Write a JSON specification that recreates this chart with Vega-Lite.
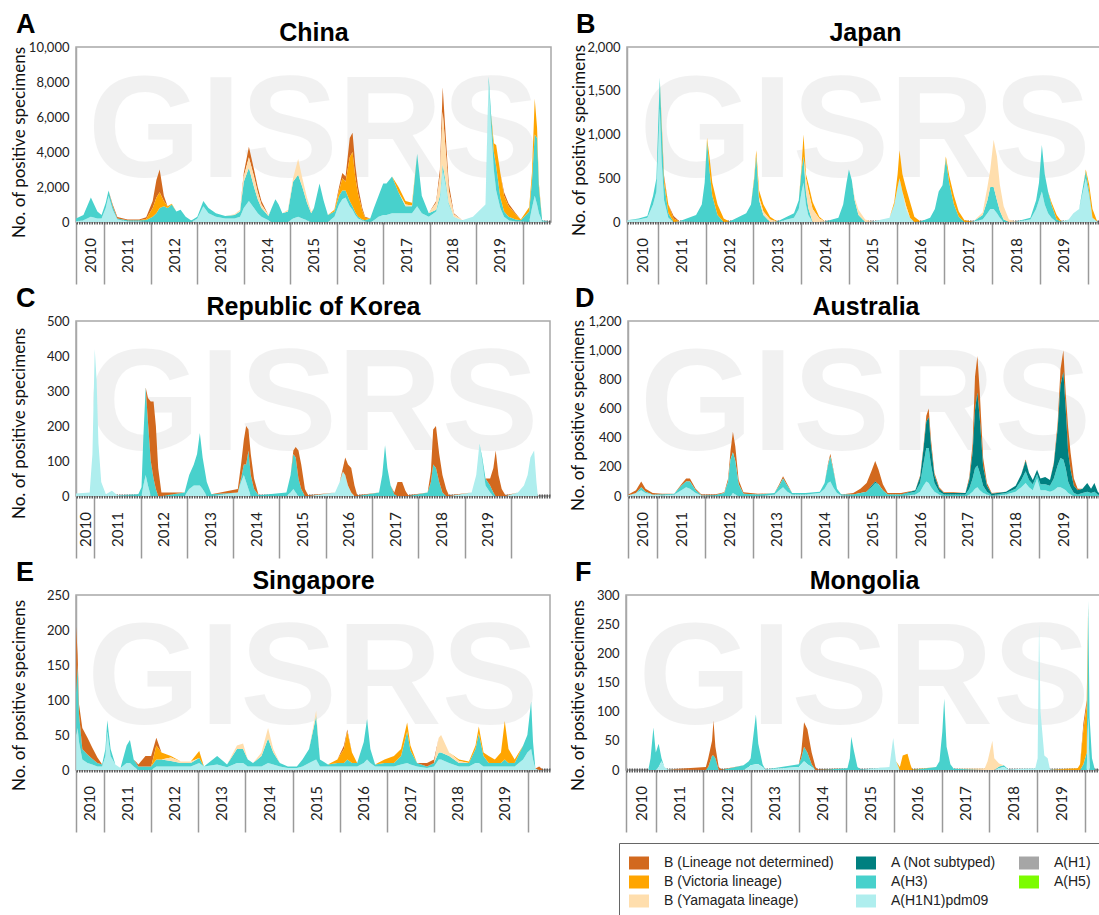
{
"$schema": "https://vega.github.io/schema/vega-lite/v6.json",
"background": "white",
"padding": {"left": 9, "top": 10, "right": 0, "bottom": 0},
"config": {
  "font": "Lato",
  "view": {"stroke": "#a8a8a8", "strokeWidth": 1.5},
  "axisBottom": {"labelAngle": -90, "labelAlign": "center", "labelBaseline": "middle", "labelFont": "Lato", "labelFontSize": 15, "labelColor": "#222", "labelPadding": -29, "labelFlush": false, "labelOverlap": false, "tickSize": 62, "tickWidth": 1.5, "tickColor": "#9a9a9a", "domainColor": "#5a5a5a", "domainWidth": 4, "domainDash": [1.5, 1], "grid": false},
  "axisLeft": {"labelFont": "Lato", "labelFontSize": 13, "labelColor": "#222", "labelPadding": 7, "ticks": false, "domainColor": "#a8a8a8", "domainWidth": 1.5, "grid": true, "gridColor": "#888", "gridWidth": 1.5, "titleFont": "Lato", "titleFontSize": 17, "titleFontWeight": "normal", "titleColor": "#111", "titleBaseline": "alphabetic"},
  "axisTop": {"labels": false, "ticks": false, "domain": false, "grid": false, "titleFont": "Liberation Sans", "titleFontSize": 25, "titleFontWeight": "bold", "titleColor": "#000", "titlePadding": 7, "titleBaseline": "alphabetic"},
  "title": {"anchor": "start", "frame": "bounds", "font": "Liberation Sans", "fontSize": 27, "fontWeight": "bold", "color": "#000", "baseline": "alphabetic", "offset": -19, "dx": 6},
  "legend": {"orient": "none", "legendX": 543, "legendY": 796, "columns": 3, "symbolType": "M-1,-0.65H1V0.65H-1Z", "symbolSize": 400, "symbolStrokeWidth": 0, "symbolOpacity": 1, "labelFont": "Liberation Sans", "labelFontSize": 14, "labelColor": "#222", "labelOffset": 15, "labelLimit": 300, "rowPadding": 2, "columnPadding": 22, "padding": 10, "strokeColor": "#666", "fillColor": "white"}
},
"datasets": {
"ser": [{"s":"L","n":"B (Lineage not determined)","r":8},{"s":"V","n":"B (Victoria lineage)","r":7},{"s":"Y","n":"B (Yamagata lineage)","r":6},{"s":"N","n":"A (Not subtyped)","r":3},{"s":"H","n":"A(H3)","r":2},{"s":"P","n":"A(H1N1)pdm09","r":1}],
"CN": [
{"t":10.39,"s":"P","v":50},{"t":10.39,"s":"H","v":150},
{"t":10.55,"s":"P","v":100},{"t":10.55,"s":"H","v":300},
{"t":10.71,"s":"P","v":300},{"t":10.71,"s":"H","v":1100},
{"t":10.85,"s":"P","v":200},{"t":10.85,"s":"H","v":400},
{"t":10.94,"s":"P","v":200},{"t":10.94,"s":"H","v":200},
{"t":11.03,"s":"P","v":800},{"t":11.03,"s":"H","v":300},
{"t":11.09,"s":"P","v":1500},{"t":11.09,"s":"H","v":300},
{"t":11.18,"s":"P","v":700},{"t":11.18,"s":"H","v":200},{"t":11.18,"s":"L","v":100},
{"t":11.28,"s":"P","v":150},{"t":11.28,"s":"H","v":50},{"t":11.28,"s":"L","v":80},
{"t":11.5,"s":"P","v":50},{"t":11.5,"s":"H","v":50},{"t":11.5,"s":"L","v":50},
{"t":11.75,"s":"P","v":50},{"t":11.75,"s":"H","v":50},{"t":11.75,"s":"L","v":50},
{"t":11.9,"s":"P","v":20},{"t":11.9,"s":"H","v":100},{"t":11.9,"s":"V","v":50},{"t":11.9,"s":"L","v":100},
{"t":12.04,"s":"H","v":300},{"t":12.04,"s":"V","v":500},{"t":12.04,"s":"L","v":400},
{"t":12.12,"s":"H","v":500},{"t":12.12,"s":"V","v":900},{"t":12.12,"s":"L","v":1000},
{"t":12.19,"s":"H","v":800},{"t":12.19,"s":"V","v":900},{"t":12.19,"s":"L","v":1300},
{"t":12.28,"s":"H","v":900},{"t":12.28,"s":"V","v":300},{"t":12.28,"s":"L","v":300},
{"t":12.36,"s":"H","v":800},{"t":12.36,"s":"V","v":100},
{"t":12.45,"s":"H","v":1000},{"t":12.45,"s":"V","v":50},
{"t":12.55,"s":"H","v":600},{"t":12.64,"s":"H","v":700},{"t":12.75,"s":"H","v":300},{"t":12.87,"s":"H","v":80},
{"t":13.0,"s":"P","v":200},{"t":13.0,"s":"H","v":100},
{"t":13.13,"s":"P","v":900},{"t":13.13,"s":"H","v":300},
{"t":13.24,"s":"P","v":500},{"t":13.24,"s":"H","v":300},
{"t":13.4,"s":"P","v":300},{"t":13.4,"s":"H","v":200},
{"t":13.6,"s":"P","v":200},{"t":13.6,"s":"H","v":150},
{"t":13.8,"s":"P","v":200},{"t":13.8,"s":"H","v":200},{"t":13.8,"s":"Y","v":50},
{"t":13.92,"s":"P","v":300},{"t":13.92,"s":"H","v":300},{"t":13.92,"s":"Y","v":100},
{"t":14.0,"s":"P","v":800},{"t":14.0,"s":"H","v":1500},{"t":14.0,"s":"Y","v":300},{"t":14.0,"s":"L","v":200},
{"t":14.11,"s":"P","v":1200},{"t":14.11,"s":"H","v":1900},{"t":14.11,"s":"Y","v":600},{"t":14.11,"s":"L","v":600},
{"t":14.22,"s":"P","v":800},{"t":14.22,"s":"H","v":1200},{"t":14.22,"s":"Y","v":600},{"t":14.22,"s":"L","v":400},
{"t":14.3,"s":"P","v":500},{"t":14.3,"s":"H","v":800},{"t":14.3,"s":"Y","v":400},{"t":14.3,"s":"L","v":300},
{"t":14.38,"s":"P","v":300},{"t":14.38,"s":"H","v":500},{"t":14.38,"s":"Y","v":200},{"t":14.38,"s":"L","v":200},
{"t":14.53,"s":"P","v":100},{"t":14.53,"s":"H","v":250},{"t":14.53,"s":"Y","v":50},
{"t":14.6,"s":"H","v":800},{"t":14.68,"s":"H","v":1300},{"t":14.75,"s":"H","v":1000},{"t":14.83,"s":"H","v":500},
{"t":14.95,"s":"H","v":600},{"t":14.95,"s":"Y","v":100},
{"t":15.06,"s":"P","v":200},{"t":15.06,"s":"H","v":2100},{"t":15.06,"s":"Y","v":200},
{"t":15.17,"s":"P","v":300},{"t":15.17,"s":"H","v":2400},{"t":15.17,"s":"Y","v":900},
{"t":15.26,"s":"P","v":200},{"t":15.26,"s":"H","v":1800},{"t":15.26,"s":"Y","v":500},
{"t":15.36,"s":"P","v":100},{"t":15.36,"s":"H","v":1000},{"t":15.36,"s":"Y","v":300},
{"t":15.45,"s":"H","v":500},{"t":15.45,"s":"Y","v":100},
{"t":15.51,"s":"H","v":800},{"t":15.63,"s":"H","v":2200},{"t":15.72,"s":"H","v":1200},{"t":15.81,"s":"H","v":400},
{"t":15.95,"s":"P","v":300},{"t":15.95,"s":"H","v":300},{"t":15.95,"s":"V","v":100},
{"t":16.05,"s":"P","v":1000},{"t":16.05,"s":"H","v":500},{"t":16.05,"s":"V","v":300},{"t":16.05,"s":"L","v":200},
{"t":16.12,"s":"P","v":1300},{"t":16.12,"s":"H","v":500},{"t":16.12,"s":"V","v":700},{"t":16.12,"s":"L","v":300},
{"t":16.19,"s":"P","v":1400},{"t":16.19,"s":"H","v":400},{"t":16.19,"s":"V","v":500},{"t":16.19,"s":"L","v":300},
{"t":16.28,"s":"P","v":900},{"t":16.28,"s":"H","v":300},{"t":16.28,"s":"V","v":2500},{"t":16.28,"s":"L","v":1100},
{"t":16.34,"s":"P","v":700},{"t":16.34,"s":"H","v":200},{"t":16.34,"s":"V","v":3100},{"t":16.34,"s":"L","v":1100},
{"t":16.4,"s":"P","v":400},{"t":16.4,"s":"H","v":150},{"t":16.4,"s":"V","v":2000},{"t":16.4,"s":"L","v":700},
{"t":16.46,"s":"P","v":200},{"t":16.46,"s":"H","v":100},{"t":16.46,"s":"V","v":1300},{"t":16.46,"s":"L","v":400},
{"t":16.55,"s":"P","v":100},{"t":16.55,"s":"H","v":50},{"t":16.55,"s":"V","v":500},{"t":16.55,"s":"L","v":150},
{"t":16.61,"s":"P","v":50},{"t":16.61,"s":"H","v":50},{"t":16.61,"s":"V","v":150},{"t":16.61,"s":"L","v":50},
{"t":16.72,"s":"H","v":200},
{"t":16.8,"s":"P","v":100},{"t":16.8,"s":"H","v":700},
{"t":16.9,"s":"P","v":300},{"t":16.9,"s":"H","v":1200},
{"t":17.0,"s":"P","v":400},{"t":17.0,"s":"H","v":1800},
{"t":17.07,"s":"P","v":400},{"t":17.07,"s":"H","v":1800},
{"t":17.19,"s":"P","v":500},{"t":17.19,"s":"H","v":2100},
{"t":17.33,"s":"P","v":500},{"t":17.33,"s":"H","v":1200},{"t":17.33,"s":"V","v":300},
{"t":17.48,"s":"P","v":500},{"t":17.48,"s":"H","v":400},{"t":17.48,"s":"V","v":200},{"t":17.48,"s":"Y","v":100},
{"t":17.62,"s":"P","v":500},{"t":17.62,"s":"H","v":400},{"t":17.62,"s":"V","v":150},{"t":17.62,"s":"Y","v":50},
{"t":17.73,"s":"P","v":900},{"t":17.73,"s":"H","v":3000},
{"t":17.83,"s":"P","v":500},{"t":17.83,"s":"H","v":1000},
{"t":17.98,"s":"P","v":300},{"t":17.98,"s":"H","v":200},
{"t":18.14,"s":"P","v":600},{"t":18.14,"s":"H","v":100},{"t":18.14,"s":"Y","v":400},{"t":18.14,"s":"L","v":100},
{"t":18.22,"s":"P","v":1300},{"t":18.22,"s":"H","v":200},{"t":18.22,"s":"Y","v":1100},{"t":18.22,"s":"L","v":400},
{"t":18.28,"s":"P","v":3000},{"t":18.28,"s":"H","v":300},{"t":18.28,"s":"Y","v":3000},{"t":18.28,"s":"L","v":1400},
{"t":18.35,"s":"P","v":2000},{"t":18.35,"s":"H","v":200},{"t":18.35,"s":"Y","v":1700},{"t":18.35,"s":"L","v":800},
{"t":18.41,"s":"P","v":1000},{"t":18.41,"s":"H","v":100},{"t":18.41,"s":"Y","v":700},{"t":18.41,"s":"L","v":400},
{"t":18.52,"s":"P","v":300},{"t":18.52,"s":"Y","v":150},{"t":18.52,"s":"L","v":50},
{"t":18.7,"s":"P","v":100},{"t":18.93,"s":"P","v":300},{"t":19.2,"s":"P","v":1000},
{"t":19.27,"s":"P","v":8000},{"t":19.27,"s":"H","v":300},
{"t":19.32,"s":"P","v":5500},{"t":19.32,"s":"H","v":700},
{"t":19.38,"s":"P","v":3000},{"t":19.38,"s":"H","v":1000},{"t":19.38,"s":"V","v":500},
{"t":19.43,"s":"P","v":1800},{"t":19.43,"s":"H","v":1400},{"t":19.43,"s":"V","v":1200},
{"t":19.52,"s":"P","v":800},{"t":19.52,"s":"H","v":600},{"t":19.52,"s":"V","v":1400},
{"t":19.6,"s":"P","v":300},{"t":19.6,"s":"H","v":300},{"t":19.6,"s":"V","v":900},{"t":19.6,"s":"L","v":200},
{"t":19.7,"s":"P","v":100},{"t":19.7,"s":"H","v":200},{"t":19.7,"s":"V","v":600},{"t":19.7,"s":"L","v":150},
{"t":19.85,"s":"P","v":50},{"t":19.85,"s":"H","v":100},{"t":19.85,"s":"V","v":300},{"t":19.85,"s":"L","v":50},
{"t":19.96,"s":"P","v":50},{"t":19.96,"s":"H","v":50},{"t":19.96,"s":"V","v":50},
{"t":20.14,"s":"H","v":600},{"t":20.14,"s":"V","v":250},
{"t":20.2,"s":"P","v":800},{"t":20.2,"s":"H","v":1500},{"t":20.2,"s":"V","v":500},
{"t":20.26,"s":"P","v":1500},{"t":20.26,"s":"H","v":3500},{"t":20.26,"s":"V","v":2050},
{"t":20.31,"s":"P","v":1000},{"t":20.31,"s":"H","v":3800},{"t":20.31,"s":"V","v":600},
{"t":20.35,"s":"P","v":500},{"t":20.35,"s":"H","v":1500},{"t":20.35,"s":"V","v":200},
{"t":20.42,"s":"P","v":50},{"t":20.42,"s":"H","v":50},
{"t":20.55,"s":"P","v":10}
],
"JP": [
{"t":10.36,"s":"P","v":20},
{"t":10.6,"s":"P","v":30},{"t":10.6,"s":"H","v":10},
{"t":10.78,"s":"P","v":50},{"t":10.78,"s":"H","v":20},
{"t":10.9,"s":"P","v":200},{"t":10.9,"s":"H","v":100},
{"t":10.97,"s":"P","v":350},{"t":10.97,"s":"H","v":150},
{"t":11.04,"s":"P","v":1300},{"t":11.04,"s":"H","v":350},
{"t":11.08,"s":"P","v":700},{"t":11.08,"s":"H","v":400},{"t":11.08,"s":"V","v":50},
{"t":11.13,"s":"P","v":250},{"t":11.13,"s":"H","v":200},{"t":11.13,"s":"V","v":50},{"t":11.13,"s":"L","v":30},
{"t":11.22,"s":"P","v":50},{"t":11.22,"s":"H","v":50},{"t":11.22,"s":"V","v":100},
{"t":11.33,"s":"V","v":40},{"t":11.33,"s":"L","v":30},
{"t":11.45,"s":"P","v":10},
{"t":11.8,"s":"H","v":80},{"t":11.92,"s":"H","v":200},{"t":11.98,"s":"H","v":450},
{"t":12.03,"s":"H","v":930},{"t":12.03,"s":"V","v":30},
{"t":12.08,"s":"H","v":600},{"t":12.08,"s":"V","v":150},
{"t":12.14,"s":"H","v":300},{"t":12.14,"s":"V","v":150},
{"t":12.25,"s":"H","v":80},{"t":12.25,"s":"V","v":120},
{"t":12.38,"s":"V","v":40},{"t":12.5,"s":"H","v":5},
{"t":12.85,"s":"H","v":100},{"t":12.95,"s":"H","v":200},
{"t":13.02,"s":"H","v":500},{"t":13.02,"s":"V","v":30},
{"t":13.06,"s":"H","v":760},{"t":13.06,"s":"V","v":60},
{"t":13.12,"s":"H","v":250},{"t":13.12,"s":"V","v":80},{"t":13.12,"s":"Y","v":30},
{"t":13.21,"s":"H","v":80},{"t":13.21,"s":"V","v":80},{"t":13.21,"s":"Y","v":40},
{"t":13.35,"s":"V","v":30},{"t":13.35,"s":"Y","v":30},
{"t":13.5,"s":"H","v":5},
{"t":13.85,"s":"P","v":50},{"t":13.85,"s":"H","v":50},
{"t":13.95,"s":"P","v":150},{"t":13.95,"s":"H","v":100},
{"t":14.01,"s":"P","v":350},{"t":14.01,"s":"H","v":250},{"t":14.01,"s":"V","v":50},
{"t":14.05,"s":"P","v":450},{"t":14.05,"s":"H","v":300},{"t":14.05,"s":"V","v":250},
{"t":14.1,"s":"P","v":200},{"t":14.1,"s":"H","v":150},{"t":14.1,"s":"Y","v":150},{"t":14.1,"s":"V","v":50},
{"t":14.15,"s":"P","v":80},{"t":14.15,"s":"H","v":80},{"t":14.15,"s":"Y","v":200},{"t":14.15,"s":"V","v":80},
{"t":14.24,"s":"Y","v":150},{"t":14.24,"s":"V","v":80},
{"t":14.38,"s":"Y","v":40},{"t":14.38,"s":"V","v":20},
{"t":14.5,"s":"P","v":5},
{"t":14.78,"s":"H","v":50},{"t":14.88,"s":"H","v":200},{"t":14.95,"s":"H","v":450},{"t":15.0,"s":"H","v":600},{"t":15.06,"s":"H","v":480},
{"t":15.12,"s":"H","v":250},{"t":15.12,"s":"Y","v":30},
{"t":15.2,"s":"H","v":80},{"t":15.2,"s":"Y","v":60},
{"t":15.34,"s":"Y","v":30},{"t":15.5,"s":"P","v":5},
{"t":15.85,"s":"P","v":50},
{"t":15.95,"s":"P","v":200},{"t":15.95,"s":"V","v":30},
{"t":16.02,"s":"P","v":400},{"t":16.02,"s":"V","v":150},
{"t":16.06,"s":"P","v":500},{"t":16.06,"s":"V","v":320},
{"t":16.12,"s":"P","v":350},{"t":16.12,"s":"V","v":200},
{"t":16.2,"s":"P","v":150},{"t":16.2,"s":"V","v":200},{"t":16.2,"s":"Y","v":30},
{"t":16.28,"s":"P","v":50},{"t":16.28,"s":"V","v":180},
{"t":16.37,"s":"V","v":60},{"t":16.5,"s":"H","v":5},
{"t":16.7,"s":"H","v":50},{"t":16.8,"s":"H","v":150},{"t":16.88,"s":"H","v":350},{"t":16.96,"s":"H","v":420},
{"t":17.03,"s":"H","v":720},{"t":17.03,"s":"V","v":30},
{"t":17.1,"s":"H","v":450},{"t":17.1,"s":"V","v":80},
{"t":17.2,"s":"H","v":200},{"t":17.2,"s":"V","v":100},
{"t":17.3,"s":"H","v":60},{"t":17.3,"s":"V","v":60},
{"t":17.42,"s":"V","v":20},{"t":17.6,"s":"P","v":5},
{"t":17.8,"s":"P","v":30},{"t":17.8,"s":"H","v":50},{"t":17.8,"s":"Y","v":30},
{"t":17.9,"s":"P","v":100},{"t":17.9,"s":"H","v":150},{"t":17.9,"s":"Y","v":150},
{"t":17.96,"s":"P","v":150},{"t":17.96,"s":"H","v":250},{"t":17.96,"s":"Y","v":200},
{"t":18.03,"s":"P","v":150},{"t":18.03,"s":"H","v":250},{"t":18.03,"s":"Y","v":540},
{"t":18.1,"s":"P","v":100},{"t":18.1,"s":"H","v":150},{"t":18.1,"s":"Y","v":500},
{"t":18.16,"s":"P","v":50},{"t":18.16,"s":"H","v":80},{"t":18.16,"s":"Y","v":300},
{"t":18.24,"s":"H","v":30},{"t":18.24,"s":"Y","v":150},
{"t":18.35,"s":"Y","v":30},{"t":18.5,"s":"P","v":5},
{"t":18.8,"s":"P","v":30},{"t":18.8,"s":"H","v":20},
{"t":18.92,"s":"P","v":150},{"t":18.92,"s":"H","v":100},
{"t":18.98,"s":"P","v":250},{"t":18.98,"s":"H","v":200},
{"t":19.04,"s":"P","v":350},{"t":19.04,"s":"H","v":530},
{"t":19.1,"s":"P","v":200},{"t":19.1,"s":"H","v":350},
{"t":19.17,"s":"P","v":100},{"t":19.17,"s":"H","v":250},
{"t":19.24,"s":"P","v":50},{"t":19.24,"s":"H","v":150},{"t":19.24,"s":"V","v":30},
{"t":19.35,"s":"H","v":30},{"t":19.35,"s":"V","v":50},
{"t":19.45,"s":"P","v":5},
{"t":19.6,"s":"P","v":30},{"t":19.7,"s":"P","v":100},{"t":19.82,"s":"P","v":150},
{"t":19.9,"s":"P","v":350},{"t":19.9,"s":"H","v":50},
{"t":19.96,"s":"P","v":500},{"t":19.96,"s":"H","v":80},{"t":19.96,"s":"V","v":20},
{"t":20.03,"s":"P","v":300},{"t":20.03,"s":"H","v":50},{"t":20.03,"s":"V","v":80},
{"t":20.1,"s":"P","v":50},{"t":20.1,"s":"V","v":100},
{"t":20.2,"s":"P","v":5}
],
"KR": [
{"t":10.39,"s":"P","v":5},{"t":10.9,"s":"P","v":10},{"t":10.96,"s":"P","v":120},{"t":11.01,"s":"P","v":420},{"t":11.05,"s":"P","v":330},{"t":11.09,"s":"P","v":150},{"t":11.15,"s":"P","v":40},{"t":11.25,"s":"P","v":5},{"t":11.38,"s":"P","v":15},{"t":11.5,"s":"P","v":2},
{"t":11.95,"s":"H","v":5},{"t":12.02,"s":"H","v":25},
{"t":12.06,"s":"P","v":30},{"t":12.06,"s":"H","v":140},
{"t":12.11,"s":"P","v":60},{"t":12.11,"s":"H","v":250},
{"t":12.16,"s":"P","v":30},{"t":12.16,"s":"H","v":180},{"t":12.16,"s":"L","v":70},
{"t":12.22,"s":"H","v":100},{"t":12.22,"s":"L","v":170},
{"t":12.28,"s":"H","v":50},{"t":12.28,"s":"L","v":220},
{"t":12.33,"s":"H","v":20},{"t":12.33,"s":"L","v":180},
{"t":12.38,"s":"L","v":80},{"t":12.45,"s":"L","v":10},
{"t":12.95,"s":"H","v":10},
{"t":13.05,"s":"P","v":20},{"t":13.05,"s":"H","v":40},
{"t":13.15,"s":"P","v":30},{"t":13.15,"s":"H","v":60},
{"t":13.22,"s":"P","v":30},{"t":13.22,"s":"H","v":90},
{"t":13.28,"s":"P","v":30},{"t":13.28,"s":"H","v":150},
{"t":13.34,"s":"P","v":20},{"t":13.34,"s":"H","v":90},
{"t":13.43,"s":"H","v":40},{"t":13.53,"s":"H","v":5},
{"t":14.1,"s":"P","v":10},{"t":14.1,"s":"L","v":10},
{"t":14.17,"s":"P","v":40},{"t":14.17,"s":"H","v":10},{"t":14.17,"s":"L","v":40},
{"t":14.23,"s":"P","v":60},{"t":14.23,"s":"H","v":30},{"t":14.23,"s":"L","v":70},
{"t":14.28,"s":"P","v":40},{"t":14.28,"s":"H","v":50},{"t":14.28,"s":"L","v":110},
{"t":14.33,"s":"P","v":20},{"t":14.33,"s":"H","v":110},{"t":14.33,"s":"L","v":60},
{"t":14.38,"s":"H","v":60},{"t":14.38,"s":"L","v":60},
{"t":14.45,"s":"H","v":20},{"t":14.45,"s":"L","v":30},
{"t":14.55,"s":"H","v":2},
{"t":15.15,"s":"H","v":10},
{"t":15.24,"s":"P","v":10},{"t":15.24,"s":"H","v":50},
{"t":15.3,"s":"P","v":20},{"t":15.3,"s":"H","v":100},{"t":15.3,"s":"L","v":10},
{"t":15.35,"s":"P","v":10},{"t":15.35,"s":"H","v":100},{"t":15.35,"s":"L","v":30},
{"t":15.41,"s":"H","v":50},{"t":15.41,"s":"L","v":80},
{"t":15.47,"s":"H","v":20},{"t":15.47,"s":"L","v":70},
{"t":15.55,"s":"L","v":20},{"t":15.62,"s":"L","v":2},
{"t":16.2,"s":"P","v":10},{"t":16.3,"s":"P","v":40},
{"t":16.37,"s":"P","v":70},{"t":16.37,"s":"L","v":10},
{"t":16.42,"s":"P","v":60},{"t":16.42,"s":"L","v":50},
{"t":16.48,"s":"P","v":30},{"t":16.48,"s":"L","v":60},
{"t":16.55,"s":"P","v":10},{"t":16.55,"s":"L","v":70},
{"t":16.62,"s":"L","v":30},{"t":16.68,"s":"L","v":2},
{"t":17.15,"s":"H","v":10},{"t":17.22,"s":"H","v":60},{"t":17.28,"s":"H","v":145},{"t":17.33,"s":"H","v":80},{"t":17.4,"s":"H","v":30},
{"t":17.48,"s":"H","v":5},{"t":17.48,"s":"L","v":5},
{"t":17.55,"s":"L","v":40},{"t":17.65,"s":"L","v":40},{"t":17.72,"s":"L","v":15},{"t":17.78,"s":"L","v":2},
{"t":18.2,"s":"H","v":10},
{"t":18.27,"s":"H","v":40},{"t":18.27,"s":"L","v":30},
{"t":18.32,"s":"H","v":90},{"t":18.32,"s":"L","v":100},
{"t":18.38,"s":"H","v":80},{"t":18.38,"s":"L","v":120},
{"t":18.45,"s":"H","v":40},{"t":18.45,"s":"L","v":80},
{"t":18.52,"s":"H","v":10},{"t":18.52,"s":"L","v":50},
{"t":18.6,"s":"L","v":20},{"t":18.66,"s":"L","v":2},
{"t":19.15,"s":"P","v":10},{"t":19.25,"s":"P","v":60},{"t":19.32,"s":"P","v":150},
{"t":19.38,"s":"P","v":100},{"t":19.38,"s":"H","v":10},
{"t":19.45,"s":"P","v":30},{"t":19.45,"s":"H","v":20},
{"t":19.55,"s":"P","v":10},{"t":19.55,"s":"H","v":20},{"t":19.55,"s":"L","v":20},
{"t":19.62,"s":"H","v":10},{"t":19.62,"s":"L","v":70},
{"t":19.67,"s":"L","v":130},{"t":19.73,"s":"L","v":60},{"t":19.8,"s":"L","v":20},{"t":19.88,"s":"L","v":2},
{"t":20.15,"s":"P","v":10},{"t":20.28,"s":"P","v":30},{"t":20.36,"s":"P","v":60},{"t":20.42,"s":"P","v":110},{"t":20.5,"s":"P","v":130},{"t":20.55,"s":"P","v":40},{"t":20.58,"s":"P","v":2}
],
"AU": [
{"t":10.39,"s":"P","v":5},{"t":10.39,"s":"L","v":5},
{"t":10.55,"s":"P","v":20},{"t":10.55,"s":"L","v":20},
{"t":10.66,"s":"P","v":40},{"t":10.66,"s":"H","v":20},{"t":10.66,"s":"L","v":40},
{"t":10.75,"s":"P","v":20},{"t":10.75,"s":"H","v":10},{"t":10.75,"s":"L","v":20},
{"t":10.9,"s":"P","v":10},{"t":10.9,"s":"L","v":10},
{"t":11.1,"s":"P","v":5},{"t":11.1,"s":"H","v":5},{"t":11.1,"s":"L","v":5},
{"t":11.35,"s":"P","v":10},{"t":11.35,"s":"H","v":5},
{"t":11.5,"s":"P","v":40},{"t":11.5,"s":"H","v":30},{"t":11.5,"s":"L","v":10},
{"t":11.6,"s":"P","v":60},{"t":11.6,"s":"H","v":40},{"t":11.6,"s":"L","v":20},
{"t":11.68,"s":"P","v":50},{"t":11.68,"s":"H","v":50},{"t":11.68,"s":"L","v":20},
{"t":11.8,"s":"P","v":20},{"t":11.8,"s":"H","v":20},{"t":11.8,"s":"L","v":10},
{"t":11.92,"s":"P","v":5},{"t":11.92,"s":"L","v":5},
{"t":12.2,"s":"H","v":5},{"t":12.2,"s":"L","v":5},
{"t":12.4,"s":"H","v":20},{"t":12.4,"s":"L","v":5},
{"t":12.48,"s":"H","v":100},{"t":12.48,"s":"L","v":20},
{"t":12.53,"s":"H","v":250},{"t":12.53,"s":"L","v":60},
{"t":12.58,"s":"P","v":20},{"t":12.58,"s":"H","v":280},{"t":12.58,"s":"L","v":140},
{"t":12.63,"s":"P","v":10},{"t":12.63,"s":"H","v":230},{"t":12.63,"s":"L","v":100},
{"t":12.7,"s":"H","v":80},{"t":12.7,"s":"L","v":30},
{"t":12.8,"s":"H","v":15},{"t":12.8,"s":"L","v":10},
{"t":13.1,"s":"H","v":10},{"t":13.1,"s":"L","v":5},
{"t":13.45,"s":"P","v":10},{"t":13.45,"s":"H","v":10},
{"t":13.55,"s":"P","v":40},{"t":13.55,"s":"H","v":30},{"t":13.55,"s":"L","v":10},
{"t":13.63,"s":"P","v":60},{"t":13.63,"s":"H","v":60},{"t":13.63,"s":"L","v":15},
{"t":13.72,"s":"P","v":30},{"t":13.72,"s":"H","v":40},{"t":13.72,"s":"L","v":10},
{"t":13.82,"s":"P","v":10},{"t":13.82,"s":"H","v":10},
{"t":14.1,"s":"P","v":10},{"t":14.1,"s":"H","v":10},
{"t":14.4,"s":"P","v":20},{"t":14.4,"s":"H","v":10},
{"t":14.5,"s":"P","v":50},{"t":14.5,"s":"H","v":40},
{"t":14.57,"s":"P","v":90},{"t":14.57,"s":"H","v":120},{"t":14.57,"s":"L","v":10},
{"t":14.62,"s":"P","v":100},{"t":14.62,"s":"H","v":170},{"t":14.62,"s":"L","v":20},
{"t":14.68,"s":"P","v":60},{"t":14.68,"s":"H","v":120},{"t":14.68,"s":"L","v":10},
{"t":14.76,"s":"P","v":20},{"t":14.76,"s":"H","v":30},
{"t":14.85,"s":"P","v":5},{"t":14.85,"s":"H","v":5},
{"t":15.1,"s":"H","v":10},{"t":15.1,"s":"L","v":10},
{"t":15.25,"s":"H","v":20},{"t":15.25,"s":"L","v":30},
{"t":15.38,"s":"H","v":30},{"t":15.38,"s":"L","v":60},
{"t":15.48,"s":"H","v":60},{"t":15.48,"s":"N","v":10},{"t":15.48,"s":"L","v":100},
{"t":15.56,"s":"H","v":90},{"t":15.56,"s":"N","v":10},{"t":15.56,"s":"L","v":140},
{"t":15.63,"s":"H","v":80},{"t":15.63,"s":"L","v":100},
{"t":15.72,"s":"H","v":40},{"t":15.72,"s":"L","v":40},
{"t":15.82,"s":"H","v":10},{"t":15.82,"s":"L","v":10},
{"t":16.1,"s":"H","v":10},{"t":16.1,"s":"L","v":10},
{"t":16.4,"s":"P","v":10},{"t":16.4,"s":"H","v":20},{"t":16.4,"s":"N","v":10},
{"t":16.5,"s":"P","v":30},{"t":16.5,"s":"H","v":60},{"t":16.5,"s":"N","v":40},{"t":16.5,"s":"L","v":10},
{"t":16.57,"s":"P","v":70},{"t":16.57,"s":"H","v":150},{"t":16.57,"s":"N","v":100},{"t":16.57,"s":"L","v":20},
{"t":16.63,"s":"P","v":100},{"t":16.63,"s":"H","v":230},{"t":16.63,"s":"N","v":180},{"t":16.63,"s":"L","v":40},
{"t":16.68,"s":"P","v":90},{"t":16.68,"s":"H","v":240},{"t":16.68,"s":"N","v":210},{"t":16.68,"s":"L","v":60},
{"t":16.73,"s":"P","v":60},{"t":16.73,"s":"H","v":150},{"t":16.73,"s":"N","v":130},{"t":16.73,"s":"L","v":40},
{"t":16.8,"s":"P","v":30},{"t":16.8,"s":"H","v":60},{"t":16.8,"s":"N","v":50},{"t":16.8,"s":"L","v":20},
{"t":16.9,"s":"P","v":10},{"t":16.9,"s":"H","v":20},{"t":16.9,"s":"N","v":20},{"t":16.9,"s":"L","v":10},
{"t":17.0,"s":"H","v":10},{"t":17.0,"s":"N","v":10},{"t":17.0,"s":"L","v":5},
{"t":17.2,"s":"H","v":10},{"t":17.2,"s":"N","v":10},{"t":17.2,"s":"L","v":5},
{"t":17.45,"s":"H","v":10},{"t":17.45,"s":"N","v":10},
{"t":17.53,"s":"P","v":10},{"t":17.53,"s":"H","v":40},{"t":17.53,"s":"N","v":60},{"t":17.53,"s":"L","v":20},
{"t":17.6,"s":"P","v":30},{"t":17.6,"s":"H","v":90},{"t":17.6,"s":"N","v":180},{"t":17.6,"s":"L","v":60},
{"t":17.65,"s":"P","v":50},{"t":17.65,"s":"H","v":140},{"t":17.65,"s":"N","v":400},{"t":17.65,"s":"L","v":230},
{"t":17.7,"s":"P","v":60},{"t":17.7,"s":"H","v":150},{"t":17.7,"s":"N","v":500},{"t":17.7,"s":"L","v":250},
{"t":17.75,"s":"P","v":40},{"t":17.75,"s":"H","v":120},{"t":17.75,"s":"N","v":370},{"t":17.75,"s":"L","v":180},
{"t":17.82,"s":"P","v":20},{"t":17.82,"s":"H","v":50},{"t":17.82,"s":"N","v":130},{"t":17.82,"s":"L","v":60},
{"t":17.9,"s":"P","v":10},{"t":17.9,"s":"H","v":20},{"t":17.9,"s":"N","v":40},{"t":17.9,"s":"L","v":20},
{"t":18.0,"s":"H","v":5},{"t":18.0,"s":"N","v":10},{"t":18.0,"s":"L","v":5},
{"t":18.3,"s":"P","v":10},{"t":18.3,"s":"H","v":10},{"t":18.3,"s":"N","v":10},
{"t":18.5,"s":"P","v":30},{"t":18.5,"s":"H","v":20},{"t":18.5,"s":"N","v":20},
{"t":18.62,"s":"P","v":60},{"t":18.62,"s":"H","v":50},{"t":18.62,"s":"N","v":40},
{"t":18.71,"s":"P","v":90},{"t":18.71,"s":"H","v":80},{"t":18.71,"s":"N","v":70},{"t":18.71,"s":"L","v":10},
{"t":18.78,"s":"P","v":60},{"t":18.78,"s":"H","v":50},{"t":18.78,"s":"N","v":50},
{"t":18.86,"s":"P","v":40},{"t":18.86,"s":"H","v":40},{"t":18.86,"s":"N","v":30},
{"t":18.95,"s":"P","v":120},{"t":18.95,"s":"H","v":30},{"t":18.95,"s":"N","v":30},
{"t":19.02,"s":"P","v":40},{"t":19.02,"s":"H","v":40},{"t":19.02,"s":"N","v":40},
{"t":19.12,"s":"P","v":40},{"t":19.12,"s":"H","v":40},{"t":19.12,"s":"N","v":50},
{"t":19.22,"s":"P","v":30},{"t":19.22,"s":"H","v":40},{"t":19.22,"s":"N","v":40},
{"t":19.3,"s":"P","v":40},{"t":19.3,"s":"H","v":80},{"t":19.3,"s":"N","v":100},{"t":19.3,"s":"L","v":10},
{"t":19.38,"s":"P","v":60},{"t":19.38,"s":"H","v":150},{"t":19.38,"s":"N","v":250},{"t":19.38,"s":"L","v":40},
{"t":19.44,"s":"P","v":60},{"t":19.44,"s":"H","v":200},{"t":19.44,"s":"N","v":500},{"t":19.44,"s":"L","v":110},
{"t":19.5,"s":"P","v":50},{"t":19.5,"s":"H","v":200},{"t":19.5,"s":"N","v":600},{"t":19.5,"s":"L","v":150},
{"t":19.55,"s":"P","v":40},{"t":19.55,"s":"H","v":150},{"t":19.55,"s":"N","v":400},{"t":19.55,"s":"L","v":110},
{"t":19.6,"s":"P","v":20},{"t":19.6,"s":"H","v":80},{"t":19.6,"s":"N","v":200},{"t":19.6,"s":"L","v":170},
{"t":19.65,"s":"P","v":10},{"t":19.65,"s":"H","v":50},{"t":19.65,"s":"N","v":120},{"t":19.65,"s":"L","v":120},
{"t":19.72,"s":"H","v":20},{"t":19.72,"s":"N","v":50},{"t":19.72,"s":"L","v":50},
{"t":19.8,"s":"H","v":10},{"t":19.8,"s":"N","v":30},{"t":19.8,"s":"L","v":10},
{"t":19.9,"s":"H","v":20},{"t":19.9,"s":"N","v":30},
{"t":20.0,"s":"H","v":30},{"t":20.0,"s":"N","v":60},
{"t":20.08,"s":"H","v":20},{"t":20.08,"s":"N","v":30},
{"t":20.15,"s":"H","v":30},{"t":20.15,"s":"N","v":60},
{"t":20.22,"s":"H","v":10},{"t":20.22,"s":"N","v":20},
{"t":20.3,"s":"H","v":2}
],
"SG": [
{"t":10.41,"s":"P","v":50},{"t":10.41,"s":"H","v":60},{"t":10.41,"s":"L","v":95},
{"t":10.44,"s":"P","v":60},{"t":10.44,"s":"H","v":90},{"t":10.44,"s":"L","v":15},
{"t":10.47,"s":"P","v":40},{"t":10.47,"s":"H","v":40},{"t":10.47,"s":"L","v":14},
{"t":10.54,"s":"P","v":15},{"t":10.54,"s":"H","v":15},{"t":10.54,"s":"L","v":30},
{"t":10.65,"s":"P","v":10},{"t":10.65,"s":"H","v":12},{"t":10.65,"s":"L","v":24},
{"t":10.75,"s":"P","v":8},{"t":10.75,"s":"H","v":8},{"t":10.75,"s":"L","v":16},
{"t":10.86,"s":"P","v":5},{"t":10.86,"s":"H","v":5},{"t":10.86,"s":"L","v":8},
{"t":10.96,"s":"P","v":5},{"t":10.96,"s":"H","v":3},
{"t":11.03,"s":"P","v":20},{"t":11.03,"s":"H","v":10},
{"t":11.07,"s":"P","v":55},{"t":11.07,"s":"H","v":16},
{"t":11.14,"s":"P","v":20},{"t":11.14,"s":"H","v":10},
{"t":11.24,"s":"P","v":8},{"t":11.35,"s":"P","v":3},
{"t":11.48,"s":"P","v":10},{"t":11.48,"s":"H","v":25},
{"t":11.55,"s":"P","v":10},{"t":11.55,"s":"H","v":33},
{"t":11.63,"s":"P","v":5},{"t":11.63,"s":"H","v":10},
{"t":11.73,"s":"H","v":5},{"t":11.73,"s":"L","v":3},
{"t":11.88,"s":"H","v":5},{"t":11.88,"s":"L","v":15},
{"t":12.0,"s":"H","v":5},{"t":12.0,"s":"L","v":15},
{"t":12.11,"s":"P","v":5},{"t":12.11,"s":"H","v":10},{"t":12.11,"s":"V","v":20},{"t":12.11,"s":"L","v":11},
{"t":12.22,"s":"P","v":5},{"t":12.22,"s":"H","v":10},{"t":12.22,"s":"V","v":10},
{"t":12.42,"s":"P","v":5},{"t":12.42,"s":"H","v":8},{"t":12.42,"s":"Y","v":5},{"t":12.42,"s":"V","v":2},
{"t":12.63,"s":"P","v":5},{"t":12.63,"s":"H","v":5},{"t":12.63,"s":"Y","v":2},
{"t":12.84,"s":"P","v":5},{"t":12.84,"s":"H","v":5},{"t":12.84,"s":"Y","v":2},
{"t":13.02,"s":"P","v":10},{"t":13.02,"s":"H","v":7},{"t":13.02,"s":"V","v":10},
{"t":13.12,"s":"P","v":5},
{"t":13.4,"s":"P","v":8},{"t":13.4,"s":"H","v":12},
{"t":13.61,"s":"P","v":4},{"t":13.61,"s":"H","v":4},
{"t":13.82,"s":"P","v":10},{"t":13.82,"s":"H","v":20},{"t":13.82,"s":"Y","v":5},
{"t":13.95,"s":"P","v":10},{"t":13.95,"s":"H","v":20},{"t":13.95,"s":"Y","v":8},
{"t":14.05,"s":"P","v":5},{"t":14.05,"s":"H","v":10},
{"t":14.16,"s":"P","v":5},{"t":14.16,"s":"H","v":5},
{"t":14.34,"s":"P","v":5},{"t":14.34,"s":"H","v":15},{"t":14.34,"s":"Y","v":5},
{"t":14.48,"s":"P","v":10},{"t":14.48,"s":"H","v":35},{"t":14.48,"s":"Y","v":15},
{"t":14.59,"s":"P","v":8},{"t":14.59,"s":"H","v":17},{"t":14.59,"s":"Y","v":5},
{"t":14.73,"s":"P","v":5},{"t":14.73,"s":"H","v":5},
{"t":14.9,"s":"P","v":3},{"t":14.9,"s":"H","v":2},
{"t":15.09,"s":"P","v":3},{"t":15.09,"s":"H","v":2},
{"t":15.21,"s":"P","v":5},{"t":15.21,"s":"H","v":10},
{"t":15.35,"s":"P","v":10},{"t":15.35,"s":"H","v":20},
{"t":15.5,"s":"P","v":15},{"t":15.5,"s":"H","v":62},{"t":15.5,"s":"Y","v":8},
{"t":15.58,"s":"P","v":5},{"t":15.58,"s":"H","v":10},
{"t":15.75,"s":"P","v":5},{"t":15.75,"s":"H","v":3},
{"t":15.95,"s":"P","v":5},{"t":15.95,"s":"H","v":5},{"t":15.95,"s":"V","v":5},
{"t":16.09,"s":"P","v":5},{"t":16.09,"s":"H","v":5},{"t":16.09,"s":"V","v":20},{"t":16.09,"s":"L","v":5},
{"t":16.16,"s":"P","v":5},{"t":16.16,"s":"H","v":10},{"t":16.16,"s":"V","v":40},{"t":16.16,"s":"L","v":3},
{"t":16.26,"s":"P","v":5},{"t":16.26,"s":"H","v":5},{"t":16.26,"s":"V","v":15},
{"t":16.37,"s":"P","v":5},{"t":16.37,"s":"H","v":5},
{"t":16.51,"s":"P","v":10},{"t":16.51,"s":"H","v":30},
{"t":16.58,"s":"P","v":15},{"t":16.58,"s":"H","v":58},
{"t":16.65,"s":"P","v":10},{"t":16.65,"s":"H","v":20},
{"t":16.75,"s":"P","v":5},{"t":16.75,"s":"H","v":3},
{"t":16.95,"s":"P","v":5},{"t":16.95,"s":"H","v":5},{"t":16.95,"s":"V","v":5},
{"t":17.15,"s":"P","v":5},{"t":17.15,"s":"H","v":5},{"t":17.15,"s":"V","v":10},
{"t":17.3,"s":"P","v":8},{"t":17.3,"s":"H","v":12},{"t":17.3,"s":"V","v":10},
{"t":17.43,"s":"P","v":10},{"t":17.43,"s":"H","v":45},{"t":17.43,"s":"V","v":13},
{"t":17.5,"s":"P","v":8},{"t":17.5,"s":"H","v":20},{"t":17.5,"s":"V","v":7},
{"t":17.64,"s":"P","v":5},{"t":17.64,"s":"H","v":5},
{"t":17.85,"s":"P","v":3},{"t":17.85,"s":"H","v":2},{"t":17.85,"s":"L","v":5},
{"t":18.0,"s":"P","v":5},{"t":18.0,"s":"H","v":5},{"t":18.0,"s":"L","v":5},
{"t":18.1,"s":"P","v":15},{"t":18.1,"s":"H","v":10},{"t":18.1,"s":"Y","v":21},
{"t":18.15,"s":"P","v":15},{"t":18.15,"s":"H","v":10},{"t":18.15,"s":"Y","v":25},
{"t":18.32,"s":"P","v":10},{"t":18.32,"s":"H","v":10},{"t":18.32,"s":"Y","v":5},
{"t":18.53,"s":"P","v":5},{"t":18.53,"s":"H","v":5},{"t":18.53,"s":"Y","v":3},{"t":18.53,"s":"V","v":2},
{"t":18.74,"s":"P","v":5},{"t":18.74,"s":"H","v":5},{"t":18.74,"s":"V","v":2},
{"t":18.88,"s":"P","v":10},{"t":18.88,"s":"H","v":20},{"t":18.88,"s":"V","v":5},
{"t":18.95,"s":"P","v":10},{"t":18.95,"s":"H","v":42},{"t":18.95,"s":"V","v":10},
{"t":19.05,"s":"P","v":5},{"t":19.05,"s":"H","v":15},{"t":19.05,"s":"V","v":5},
{"t":19.16,"s":"P","v":5},{"t":19.16,"s":"H","v":5},{"t":19.16,"s":"V","v":10},
{"t":19.29,"s":"P","v":5},{"t":19.29,"s":"H","v":5},{"t":19.29,"s":"V","v":5},
{"t":19.42,"s":"P","v":5},{"t":19.42,"s":"H","v":5},{"t":19.42,"s":"V","v":15},
{"t":19.5,"s":"P","v":5},{"t":19.5,"s":"H","v":10},{"t":19.5,"s":"V","v":55},
{"t":19.58,"s":"P","v":5},{"t":19.58,"s":"H","v":5},{"t":19.58,"s":"V","v":20},
{"t":19.71,"s":"P","v":5},{"t":19.71,"s":"H","v":5},{"t":19.71,"s":"V","v":5},
{"t":19.89,"s":"P","v":15},{"t":19.89,"s":"H","v":20},
{"t":19.98,"s":"P","v":25},{"t":19.98,"s":"H","v":25},
{"t":20.06,"s":"P","v":30},{"t":20.06,"s":"H","v":68},
{"t":20.1,"s":"P","v":15},{"t":20.1,"s":"H","v":25},
{"t":20.15,"s":"P","v":2},{"t":20.23,"s":"L","v":5},{"t":20.3,"s":"L","v":1}
],
"MN": [
{"t":10.85,"s":"H","v":3},{"t":10.89,"s":"H","v":20},{"t":10.95,"s":"H","v":73},{"t":11.0,"s":"H","v":30},
{"t":11.06,"s":"P","v":5},{"t":11.06,"s":"H","v":40},
{"t":11.12,"s":"P","v":15},{"t":11.12,"s":"H","v":5},
{"t":11.18,"s":"P","v":5},{"t":11.25,"s":"P","v":1},
{"t":12.05,"s":"L","v":5},
{"t":12.1,"s":"H","v":5},{"t":12.1,"s":"L","v":15},
{"t":12.18,"s":"H","v":25},{"t":12.18,"s":"L","v":25},
{"t":12.21,"s":"H","v":25},{"t":12.21,"s":"L","v":60},
{"t":12.25,"s":"H","v":20},{"t":12.25,"s":"L","v":20},
{"t":12.32,"s":"L","v":5},{"t":12.38,"s":"L","v":1},
{"t":12.84,"s":"H","v":8},
{"t":12.95,"s":"P","v":5},{"t":12.95,"s":"H","v":10},
{"t":12.99,"s":"P","v":8},{"t":12.99,"s":"H","v":12},
{"t":13.1,"s":"P","v":10},{"t":13.1,"s":"H","v":85},
{"t":13.15,"s":"P","v":10},{"t":13.15,"s":"H","v":35},
{"t":13.24,"s":"P","v":5},{"t":13.24,"s":"H","v":5},
{"t":13.3,"s":"P","v":1},
{"t":14.0,"s":"P","v":5},{"t":14.0,"s":"H","v":5},
{"t":14.05,"s":"P","v":10},{"t":14.05,"s":"H","v":10},{"t":14.05,"s":"L","v":10},
{"t":14.11,"s":"P","v":15},{"t":14.11,"s":"H","v":25},{"t":14.11,"s":"L","v":42},
{"t":14.18,"s":"P","v":10},{"t":14.18,"s":"H","v":20},{"t":14.18,"s":"L","v":40},
{"t":14.27,"s":"P","v":5},{"t":14.27,"s":"H","v":5},{"t":14.27,"s":"L","v":20},
{"t":14.35,"s":"L","v":5},{"t":14.4,"s":"L","v":1},
{"t":15.02,"s":"H","v":3},{"t":15.07,"s":"H","v":20},{"t":15.1,"s":"H","v":57},{"t":15.15,"s":"H","v":35},{"t":15.23,"s":"H","v":5},{"t":15.3,"s":"H","v":1},
{"t":15.9,"s":"P","v":5},{"t":15.98,"s":"P","v":55},{"t":16.04,"s":"P","v":15},
{"t":16.12,"s":"V","v":5},{"t":16.18,"s":"V","v":25},{"t":16.28,"s":"V","v":28},{"t":16.34,"s":"V","v":10},{"t":16.38,"s":"V","v":1},
{"t":16.88,"s":"H","v":5},{"t":16.95,"s":"H","v":15},{"t":17.01,"s":"H","v":65},{"t":17.05,"s":"H","v":122},{"t":17.1,"s":"H","v":40},{"t":17.18,"s":"H","v":10},{"t":17.25,"s":"H","v":2},
{"t":17.9,"s":"Y","v":3},{"t":17.96,"s":"Y","v":15},{"t":18.06,"s":"Y","v":50},{"t":18.1,"s":"Y","v":20},
{"t":18.2,"s":"P","v":3},{"t":18.2,"s":"H","v":3},{"t":18.2,"s":"Y","v":5},
{"t":18.3,"s":"P","v":5},{"t":18.3,"s":"H","v":3},
{"t":18.4,"s":"P","v":1},
{"t":18.96,"s":"P","v":3},{"t":19.01,"s":"P","v":20},{"t":19.04,"s":"P","v":250},{"t":19.07,"s":"P","v":100},{"t":19.15,"s":"P","v":25},{"t":19.22,"s":"P","v":20},{"t":19.27,"s":"P","v":1},
{"t":19.85,"s":"V","v":3},{"t":19.9,"s":"V","v":10},
{"t":19.97,"s":"H","v":10},{"t":19.97,"s":"V","v":60},{"t":19.97,"s":"L","v":10},
{"t":20.04,"s":"H","v":30},{"t":20.04,"s":"V","v":80},{"t":20.04,"s":"L","v":10},
{"t":20.07,"s":"P","v":90},{"t":20.07,"s":"H","v":200},
{"t":20.1,"s":"H","v":90},{"t":20.15,"s":"H","v":20},{"t":20.21,"s":"H","v":1}
]
},
"columns": 1,
"align": "none",
"spacing": -2,
"concat": [
{"spacing": 17, "hconcat": [
{"width": 475, "height": 175, "title": {"text": "A"},
 "layer": [
  {"data": {"values": [{"w": "GISRS"}]},
   "mark": {"type": "text", "font": "Liberation Sans", "fontSize": 145, "fontWeight": "bold", "color": "#888", "opacity": 0.11, "align": "center", "baseline": "middle", "clip": true},
   "encoding": {"text": {"field": "w"}, "x": {"datum": 15.5, "type": "quantitative", "axis": {"orient": "top", "title": "China"}}, "y": {"datum": 5100, "type": "quantitative", "axis": null}}},
  {"data": {"name": "CN"},
   "transform": [{"lookup": "s", "from": {"data": {"name": "ser"}, "key": "s", "fields": ["n", "r"]}}],
   "mark": {"type": "area", "clip": true},
   "encoding": {
    "x": {"field": "t", "type": "quantitative", "scale": {"domain": [10.39, 20.61], "nice": false, "zero": false}, "axis": {"orient": "bottom", "title": null, "labelFont": "Lato", "labelFontSize": 15, "values": [10.39,10.695,11,11.5,12,12.5,13,13.5,14,14.5,15,15.5,16,16.5,17,17.5,18,18.5,19,19.5,20], "labelExpr": "datum.value % 1 == 0 || datum.value < 10.6 ? '' : '' + (2000 + floor(datum.value))", "tickOpacity": {"condition": {"test": "datum.value % 1 == 0 || datum.value < 10.6", "value": 1}, "value": 0}}},
    "y": {"field": "v", "type": "quantitative", "stack": "zero", "scale": {"domain": [0, 10000], "nice": false}, "axis": {"values": [0,2000,4000,6000,8000,10000], "format": ",d", "labelFont": "Lato", "labelFontSize": 13, "titleFont": "Lato", "titleFontSize": 17, "titleFontWeight": "normal", "title": "No. of positive specimens", "titleX": -52, "titleY": 95, "gridColor": {"condition": {"test": "datum.value >= 10000", "value": "#a8a8a8"}, "value": "#888"}}},
    "color": {"field": "n", "type": "nominal", "scale": {"domain": ["B (Lineage not determined)","B (Victoria lineage)","B (Yamagata lineage)","A (Not subtyped)","A(H3)","A(H1N1)pdm09","A(H1)","A(H5)"], "range": ["#d2691e","#ffa500","#ffdead","#008080","#48d1cc","#afeeee","#a6a6a6","#7cfc00"]}, "legend": {"title": null}},
    "detail": {"field": "r", "type": "nominal"},
    "order": {"field": "r", "type": "quantitative"}
   }}
 ],
 "resolve": {"axis": {"x": "independent", "y": "independent"}}},
{"width": 476, "height": 175, "title": {"text": "B"},
 "layer": [
  {"data": {"values": [{"w": "GISRS"}]},
   "mark": {"type": "text", "font": "Liberation Sans", "fontSize": 145, "fontWeight": "bold", "color": "#888", "opacity": 0.11, "align": "center", "baseline": "middle", "clip": true},
   "encoding": {"text": {"field": "w"}, "x": {"datum": 15.34, "type": "quantitative", "axis": {"orient": "top", "title": "Japan"}}, "y": {"datum": 1020, "type": "quantitative", "axis": null}}},
  {"data": {"name": "JP"},
   "transform": [{"lookup": "s", "from": {"data": {"name": "ser"}, "key": "s", "fields": ["n", "r"]}}],
   "mark": {"type": "area", "clip": true},
   "encoding": {
    "x": {"field": "t", "type": "quantitative", "scale": {"domain": [10.354, 20.32], "nice": false, "zero": false}, "axis": {"orient": "bottom", "title": null, "labelFont": "Lato", "labelFontSize": 15, "values": [10.354,10.677,11,11.5,12,12.5,13,13.5,14,14.5,15,15.5,16,16.5,17,17.5,18,18.5,19,19.5,20], "labelExpr": "datum.value % 1 == 0 || datum.value < 10.6 ? '' : '' + (2000 + floor(datum.value))", "tickOpacity": {"condition": {"test": "datum.value % 1 == 0 || datum.value < 10.6", "value": 1}, "value": 0}}},
    "y": {"field": "v", "type": "quantitative", "stack": "zero", "scale": {"domain": [0, 2000], "nice": false}, "axis": {"values": [0,500,1000,1500,2000], "format": ",d", "labelFont": "Lato", "labelFontSize": 13, "titleFont": "Lato", "titleFontSize": 17, "titleFontWeight": "normal", "title": "No. of positive specimens", "titleX": -43, "titleY": 93, "gridColor": {"condition": {"test": "datum.value >= 2000", "value": "#a8a8a8"}, "value": "#888"}}},
    "color": {"field": "n", "type": "nominal", "scale": {"domain": ["B (Lineage not determined)","B (Victoria lineage)","B (Yamagata lineage)","A (Not subtyped)","A(H3)","A(H1N1)pdm09","A(H1)","A(H5)"], "range": ["#d2691e","#ffa500","#ffdead","#008080","#48d1cc","#afeeee","#a6a6a6","#7cfc00"]}, "legend": {"title": null}},
    "detail": {"field": "r", "type": "nominal"},
    "order": {"field": "r", "type": "quantitative"}
   }}
 ],
 "resolve": {"axis": {"x": "independent", "y": "independent"}}}
]},
{"spacing": 17, "hconcat": [
{"width": 474, "height": 175, "title": {"text": "C"},
 "layer": [
  {"data": {"values": [{"w": "GISRS"}]},
   "mark": {"type": "text", "font": "Liberation Sans", "fontSize": 145, "fontWeight": "bold", "color": "#888", "opacity": 0.11, "align": "center", "baseline": "middle", "clip": true},
   "encoding": {"text": {"field": "w"}, "x": {"datum": 15.72, "type": "quantitative", "axis": {"orient": "top", "title": "Republic of Korea"}}, "y": {"datum": 257, "type": "quantitative", "axis": null}}},
  {"data": {"name": "KR"},
   "transform": [{"lookup": "s", "from": {"data": {"name": "ser"}, "key": "s", "fields": ["n", "r"]}}],
   "mark": {"type": "area", "clip": true},
   "encoding": {
    "x": {"field": "t", "type": "quantitative", "scale": {"domain": [10.605, 20.843], "nice": false, "zero": false}, "axis": {"orient": "bottom", "title": null, "labelFont": "Lato", "labelFontSize": 15, "values": [10.605,10.8,11,11.5,12,12.5,13,13.5,14,14.5,15,15.5,16,16.5,17,17.5,18,18.5,19,19.5,20], "labelExpr": "datum.value % 1 == 0 || datum.value < 10.7 ? '' : '' + (2000 + floor(datum.value))", "tickOpacity": {"condition": {"test": "datum.value % 1 == 0 || datum.value < 10.7", "value": 1}, "value": 0}}},
    "y": {"field": "v", "type": "quantitative", "stack": "zero", "scale": {"domain": [0, 500], "nice": false}, "axis": {"values": [0,100,200,300,400,500], "format": ",d", "labelFont": "Lato", "labelFontSize": 13, "titleFont": "Lato", "titleFontSize": 17, "titleFontWeight": "normal", "title": "No. of positive specimens", "titleX": -52, "titleY": 102, "gridColor": {"condition": {"test": "datum.value >= 500", "value": "#a8a8a8"}, "value": "#888"}}},
    "color": {"field": "n", "type": "nominal", "scale": {"domain": ["B (Lineage not determined)","B (Victoria lineage)","B (Yamagata lineage)","A (Not subtyped)","A(H3)","A(H1N1)pdm09","A(H1)","A(H5)"], "range": ["#d2691e","#ffa500","#ffdead","#008080","#48d1cc","#afeeee","#a6a6a6","#7cfc00"]}, "legend": {"title": null}},
    "detail": {"field": "r", "type": "nominal"},
    "order": {"field": "r", "type": "quantitative"}
   }}
 ],
 "resolve": {"axis": {"x": "independent", "y": "independent"}}},
{"width": 475, "height": 175, "title": {"text": "D"},
 "layer": [
  {"data": {"values": [{"w": "GISRS"}]},
   "mark": {"type": "text", "font": "Liberation Sans", "fontSize": 145, "fontWeight": "bold", "color": "#888", "opacity": 0.11, "align": "center", "baseline": "middle", "clip": true},
   "encoding": {"text": {"field": "w"}, "x": {"datum": 15.36, "type": "quantitative", "axis": {"orient": "top", "title": "Australia"}}, "y": {"datum": 620, "type": "quantitative", "axis": null}}},
  {"data": {"name": "AU"},
   "transform": [{"lookup": "s", "from": {"data": {"name": "ser"}, "key": "s", "fields": ["n", "r"]}}],
   "mark": {"type": "area", "clip": true},
   "encoding": {
    "x": {"field": "t", "type": "quantitative", "scale": {"domain": [10.383, 20.33], "nice": false, "zero": false}, "axis": {"orient": "bottom", "title": null, "labelFont": "Lato", "labelFontSize": 15, "values": [10.383,10.69,11,11.5,12,12.5,13,13.5,14,14.5,15,15.5,16,16.5,17,17.5,18,18.5,19,19.5,20], "labelExpr": "datum.value % 1 == 0 || datum.value < 10.6 ? '' : '' + (2000 + floor(datum.value))", "tickOpacity": {"condition": {"test": "datum.value % 1 == 0 || datum.value < 10.6", "value": 1}, "value": 0}}},
    "y": {"field": "v", "type": "quantitative", "stack": "zero", "scale": {"domain": [0, 1200], "nice": false}, "axis": {"values": [0,200,400,600,800,1000,1200], "format": ",d", "labelFont": "Lato", "labelFontSize": 13, "titleFont": "Lato", "titleFontSize": 17, "titleFontWeight": "normal", "title": "No. of positive specimens", "titleX": -45, "titleY": 94, "gridColor": {"condition": {"test": "datum.value >= 1200", "value": "#a8a8a8"}, "value": "#888"}}},
    "color": {"field": "n", "type": "nominal", "scale": {"domain": ["B (Lineage not determined)","B (Victoria lineage)","B (Yamagata lineage)","A (Not subtyped)","A(H3)","A(H1N1)pdm09","A(H1)","A(H5)"], "range": ["#d2691e","#ffa500","#ffdead","#008080","#48d1cc","#afeeee","#a6a6a6","#7cfc00"]}, "legend": {"title": null}},
    "detail": {"field": "r", "type": "nominal"},
    "order": {"field": "r", "type": "quantitative"}
   }}
 ],
 "resolve": {"axis": {"x": "independent", "y": "independent"}}}
]},
{"spacing": 17, "hconcat": [
{"width": 474, "height": 175, "title": {"text": "E"},
 "layer": [
  {"data": {"values": [{"w": "GISRS"}]},
   "mark": {"type": "text", "font": "Liberation Sans", "fontSize": 145, "fontWeight": "bold", "color": "#888", "opacity": 0.11, "align": "center", "baseline": "middle", "clip": true},
   "encoding": {"text": {"field": "w"}, "x": {"datum": 15.43, "type": "quantitative", "axis": {"orient": "top", "title": "Singapore"}}, "y": {"datum": 129, "type": "quantitative", "axis": null}}},
  {"data": {"name": "SG"},
   "transform": [{"lookup": "s", "from": {"data": {"name": "ser"}, "key": "s", "fields": ["n", "r"]}}],
   "mark": {"type": "area", "clip": true},
   "encoding": {
    "x": {"field": "t", "type": "quantitative", "scale": {"domain": [10.406, 20.46], "nice": false, "zero": false}, "axis": {"orient": "bottom", "title": null, "labelFont": "Lato", "labelFontSize": 15, "values": [10.406,10.7,11,11.5,12,12.5,13,13.5,14,14.5,15,15.5,16,16.5,17,17.5,18,18.5,19,19.5,20], "labelExpr": "datum.value % 1 == 0 || datum.value < 10.6 ? '' : '' + (2000 + floor(datum.value))", "tickOpacity": {"condition": {"test": "datum.value % 1 == 0 || datum.value < 10.6", "value": 1}, "value": 0}}},
    "y": {"field": "v", "type": "quantitative", "stack": "zero", "scale": {"domain": [0, 250], "nice": false}, "axis": {"values": [0,50,100,150,200,250], "format": ",d", "labelFont": "Lato", "labelFontSize": 13, "titleFont": "Lato", "titleFontSize": 17, "titleFontWeight": "normal", "title": "No. of positive specimens", "titleX": -52, "titleY": 100, "gridColor": {"condition": {"test": "datum.value >= 250", "value": "#a8a8a8"}, "value": "#888"}}},
    "color": {"field": "n", "type": "nominal", "scale": {"domain": ["B (Lineage not determined)","B (Victoria lineage)","B (Yamagata lineage)","A (Not subtyped)","A(H3)","A(H1N1)pdm09","A(H1)","A(H5)"], "range": ["#d2691e","#ffa500","#ffdead","#008080","#48d1cc","#afeeee","#a6a6a6","#7cfc00"]}, "legend": {"title": null}},
    "detail": {"field": "r", "type": "nominal"},
    "order": {"field": "r", "type": "quantitative"}
   }}
 ],
 "resolve": {"axis": {"x": "independent", "y": "independent"}}},
{"width": 476, "height": 175, "title": {"text": "F"},
 "layer": [
  {"data": {"values": [{"w": "GISRS"}]},
   "mark": {"type": "text", "font": "Liberation Sans", "fontSize": 145, "fontWeight": "bold", "color": "#888", "opacity": 0.11, "align": "center", "baseline": "middle", "clip": true},
   "encoding": {"text": {"field": "w"}, "x": {"datum": 15.37, "type": "quantitative", "axis": {"orient": "top", "title": "Mongolia"}}, "y": {"datum": 155, "type": "quantitative", "axis": null}}},
  {"data": {"name": "MN"},
   "transform": [{"lookup": "s", "from": {"data": {"name": "ser"}, "key": "s", "fields": ["n", "r"]}}],
   "mark": {"type": "area", "clip": true},
   "encoding": {
    "x": {"field": "t", "type": "quantitative", "scale": {"domain": [10.375, 20.36], "nice": false, "zero": false}, "axis": {"orient": "bottom", "title": null, "labelFont": "Lato", "labelFontSize": 15, "values": [10.375,10.69,11,11.5,12,12.5,13,13.5,14,14.5,15,15.5,16,16.5,17,17.5,18,18.5,19,19.5,20], "labelExpr": "datum.value % 1 == 0 || datum.value < 10.6 ? '' : '' + (2000 + floor(datum.value))", "tickOpacity": {"condition": {"test": "datum.value % 1 == 0 || datum.value < 10.6", "value": 1}, "value": 0}}},
    "y": {"field": "v", "type": "quantitative", "stack": "zero", "scale": {"domain": [0, 300], "nice": false}, "axis": {"values": [0,50,100,150,200,250,300], "format": ",d", "labelFont": "Lato", "labelFontSize": 13, "titleFont": "Lato", "titleFontSize": 17, "titleFontWeight": "normal", "title": "No. of positive specimens", "titleX": -43, "titleY": 100, "gridColor": {"condition": {"test": "datum.value >= 300", "value": "#a8a8a8"}, "value": "#888"}}},
    "color": {"field": "n", "type": "nominal", "scale": {"domain": ["B (Lineage not determined)","B (Victoria lineage)","B (Yamagata lineage)","A (Not subtyped)","A(H3)","A(H1N1)pdm09","A(H1)","A(H5)"], "range": ["#d2691e","#ffa500","#ffdead","#008080","#48d1cc","#afeeee","#a6a6a6","#7cfc00"]}, "legend": {"title": null}},
    "detail": {"field": "r", "type": "nominal"},
    "order": {"field": "r", "type": "quantitative"}
   }}
 ],
 "resolve": {"axis": {"x": "independent", "y": "independent"}}}
]}
]
}
